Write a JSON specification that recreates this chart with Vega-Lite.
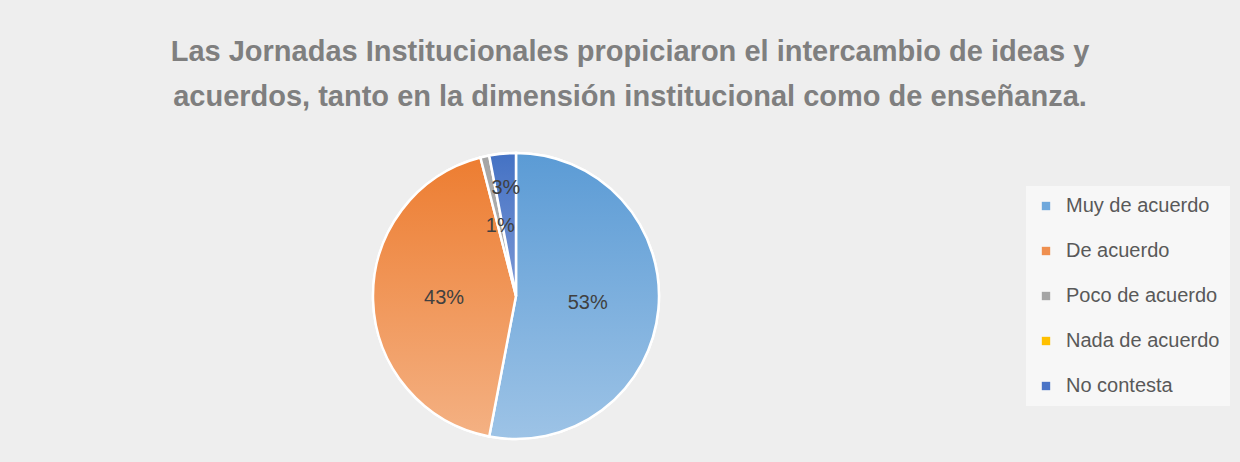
{
  "$schema": "https://vega.github.io/schema/vega-lite/v6.json",
  "width": 1016,
  "height": 286,
  "autosize": {"type": "none"},
  "padding": {"left": 8, "top": 153, "right": 216, "bottom": 23},
  "background": "#eeeeee",
  "view": {"stroke": null},
  "title": {
    "text": ["Las Jornadas Institucionales propiciaron el intercambio de ideas y", "acuerdos, tanto en la dimensión institucional como de enseñanza."],
    "anchor": "middle",
    "frame": "group",
    "dx": 114,
    "offset": 36,
    "font": "Liberation Sans",
    "fontSize": 29,
    "fontWeight": "bold",
    "color": "#7f7f7f",
    "lineHeight": 45
  },
  "data": {
    "values": [
      {"respuesta": "Muy de acuerdo", "porcentaje": 53, "etiqueta": "53%", "orden": 1},
      {"respuesta": "De acuerdo", "porcentaje": 43, "etiqueta": "43%", "orden": 2},
      {"respuesta": "Poco de acuerdo", "porcentaje": 1, "etiqueta": "1%", "orden": 3},
      {"respuesta": "Nada de acuerdo", "porcentaje": 0, "etiqueta": "0%", "orden": 4},
      {"respuesta": "No contesta", "porcentaje": 3, "etiqueta": "3%", "orden": 5}
    ]
  },
  "transform": [
    {"stack": "porcentaje", "groupby": [], "sort": [{"field": "orden", "order": "ascending"}], "as": ["inicio", "fin"]}
  ],
  "layer": [
    {
      "mark": {"type": "arc", "stroke": "white", "strokeWidth": 2.5},
      "encoding": {
        "theta": {"field": "inicio", "type": "quantitative", "scale": {"domain": [0, 100]}},
        "theta2": {"field": "fin"},
        "color": {
          "field": "respuesta",
          "type": "nominal",
          "scale": {
            "domain": ["Muy de acuerdo", "De acuerdo", "Poco de acuerdo", "Nada de acuerdo", "No contesta"],
            "range": ["#6fa8dc", "#ef8f4f", "#a5a5a5", "#ffc000", "#4a74c6"]
          },
          "legend": {
            "orient": "none",
            "legendX": 1018,
            "legendY": 33,
            "title": null,
            "symbolType": "square",
            "symbolSize": 70,
            "symbolStrokeWidth": 0,
            "symbolOpacity": 1,
            "labelFont": "Liberation Sans",
            "labelFontSize": 20,
            "labelColor": "#595959",
            "labelOffset": 10,
            "rowPadding": 25,
            "padding": 10,
            "fillColor": "#f7f7f7"
          }
        }
      }
    },
    {
      "transform": [{"filter": "datum.respuesta === 'Muy de acuerdo'"}],
      "mark": {"type": "arc", "stroke": "white", "strokeWidth": 2.5,
        "fill": {"gradient": "linear", "x1": 0, "y1": 0, "x2": 0, "y2": 1, "stops": [{"offset": 0, "color": "#5b9bd5"}, {"offset": 1, "color": "#9dc3e6"}]}},
      "encoding": {
        "theta": {"field": "inicio", "type": "quantitative", "scale": {"domain": [0, 100]}},
        "theta2": {"field": "fin"}
      }
    },
    {
      "transform": [{"filter": "datum.respuesta === 'De acuerdo'"}],
      "mark": {"type": "arc", "stroke": "white", "strokeWidth": 2.5,
        "fill": {"gradient": "linear", "x1": 0, "y1": 0, "x2": 0, "y2": 1, "stops": [{"offset": 0, "color": "#ed7d31"}, {"offset": 1, "color": "#f4b183"}]}},
      "encoding": {
        "theta": {"field": "inicio", "type": "quantitative", "scale": {"domain": [0, 100]}},
        "theta2": {"field": "fin"}
      }
    },
    {
      "transform": [{"filter": "datum.respuesta === 'Poco de acuerdo'"}],
      "mark": {"type": "arc", "stroke": "white", "strokeWidth": 2.5,
        "fill": {"gradient": "linear", "x1": 0, "y1": 0, "x2": 0, "y2": 1, "stops": [{"offset": 0, "color": "#a5a5a5"}, {"offset": 1, "color": "#b4b4b4"}]}},
      "encoding": {
        "theta": {"field": "inicio", "type": "quantitative", "scale": {"domain": [0, 100]}},
        "theta2": {"field": "fin"}
      }
    },
    {
      "transform": [{"filter": "datum.respuesta === 'No contesta'"}],
      "mark": {"type": "arc", "stroke": "white", "strokeWidth": 2.5,
        "fill": {"gradient": "linear", "x1": 0, "y1": 0, "x2": 0, "y2": 1, "stops": [{"offset": 0, "color": "#4472c4"}, {"offset": 1, "color": "#7c98d5"}]}},
      "encoding": {
        "theta": {"field": "inicio", "type": "quantitative", "scale": {"domain": [0, 100]}},
        "theta2": {"field": "fin"}
      }
    },
    {
      "transform": [{"filter": "datum.porcentaje > 0"}],
      "mark": {
        "type": "text",
        "radius": {"expr": "datum.respuesta === 'No contesta' ? 108 : 72"},
        "font": "Liberation Sans",
        "fontSize": 20,
        "align": "center",
        "baseline": "middle",
        "color": "#404040"
      },
      "encoding": {
        "theta": {"field": "porcentaje", "type": "quantitative", "stack": true, "scale": {"domain": [0, 100]}},
        "order": {"field": "orden", "type": "quantitative"},
        "text": {"field": "etiqueta", "type": "nominal"}
      }
    }
  ]
}
